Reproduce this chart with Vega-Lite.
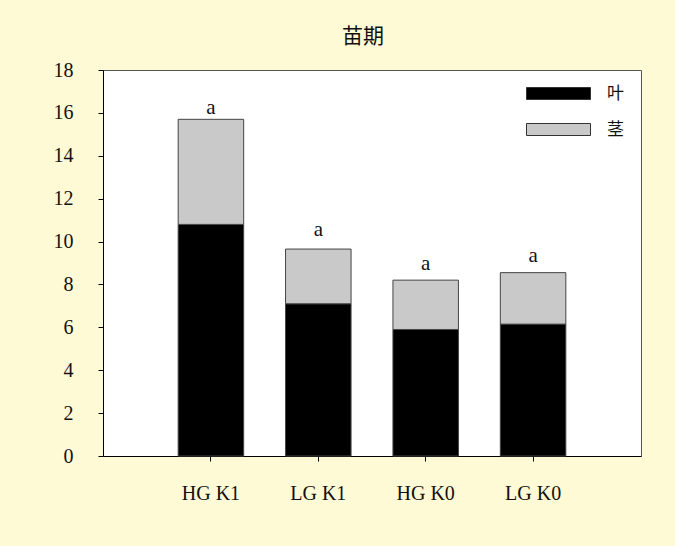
{
  "$schema": "https://vega.github.io/schema/vega-lite/v6.json",
  "autosize": {"type": "none"},
  "width": 538,
  "height": 386,
  "padding": {"left": 103, "top": 70, "right": 34, "bottom": 90},
  "background": "#FFFAD6",
  "title": {"text": "苗期", "font": "Noto Sans CJK SC", "fontSize": 21, "fontWeight": "normal", "color": "#111111", "offset": 13, "dx": -9, "anchor": "middle", "frame": "group"},
  "config": {
    "view": {"stroke": "#555555", "strokeWidth": 1, "fill": "white"},
    "axis": {"labelFont": "Liberation Serif", "labelFontSize": 20, "labelColor": "#111111", "tickColor": "#000000", "tickSize": 5, "domainColor": "#000000", "domainWidth": 1, "tickWidth": 1, "grid": false, "title": null}
  },
  "datasets": {
    "parts": [
      {"group": "HG K1", "part": "叶", "ord": 1, "value": 10.8},
      {"group": "HG K1", "part": "茎", "ord": 2, "value": 4.9},
      {"group": "LG K1", "part": "叶", "ord": 1, "value": 7.1},
      {"group": "LG K1", "part": "茎", "ord": 2, "value": 2.55},
      {"group": "HG K0", "part": "叶", "ord": 1, "value": 5.9},
      {"group": "HG K0", "part": "茎", "ord": 2, "value": 2.3},
      {"group": "LG K0", "part": "叶", "ord": 1, "value": 6.15},
      {"group": "LG K0", "part": "茎", "ord": 2, "value": 2.4}
    ],
    "sig": [
      {"group": "HG K1", "label": "a", "pos": 15.95},
      {"group": "LG K1", "label": "a", "pos": 10.27},
      {"group": "HG K0", "label": "a", "pos": 8.68},
      {"group": "LG K0", "label": "a", "pos": 9.03}
    ]
  },
  "layer": [
    {
      "data": {"name": "parts"},
      "mark": {"type": "bar", "stroke": "#444444", "strokeWidth": 1},
      "encoding": {
        "x": {"field": "group", "type": "nominal", "sort": null, "scale": {"paddingInner": 0.39, "paddingOuter": 0.7}, "axis": {"labelAngle": 0, "labelPadding": 22}},
        "y": {"field": "value", "type": "quantitative", "stack": "zero", "scale": {"domain": [0, 18], "nice": false}, "axis": {"values": [0, 2, 4, 6, 8, 10, 12, 14, 16, 18], "labelPadding": 25}},
        "color": {"field": "part", "type": "nominal", "scale": {"domain": ["叶", "茎"], "range": ["#000000", "#C8C9C8"]},
          "legend": {"orient": "none", "legendX": 439, "legendY": 7, "title": null, "symbolType": "M-2,-0.375H2V0.375H-2Z", "symbolSize": 1024, "symbolStrokeColor": "#333333", "symbolStrokeWidth": 1, "symbolOpacity": 1, "labelFont": "Noto Sans CJK SC", "labelFontSize": 17, "labelColor": "#111111", "labelOffset": 32, "rowPadding": 11}},
        "order": {"field": "ord", "type": "quantitative"}
      }
    },
    {
      "data": {"name": "sig"},
      "mark": {"type": "text", "font": "Liberation Serif", "fontSize": 21, "baseline": "alphabetic", "color": "#111111"},
      "encoding": {
        "x": {"field": "group", "type": "nominal", "sort": null},
        "y": {"field": "pos", "type": "quantitative"},
        "text": {"field": "label"}
      }
    }
  ]
}
